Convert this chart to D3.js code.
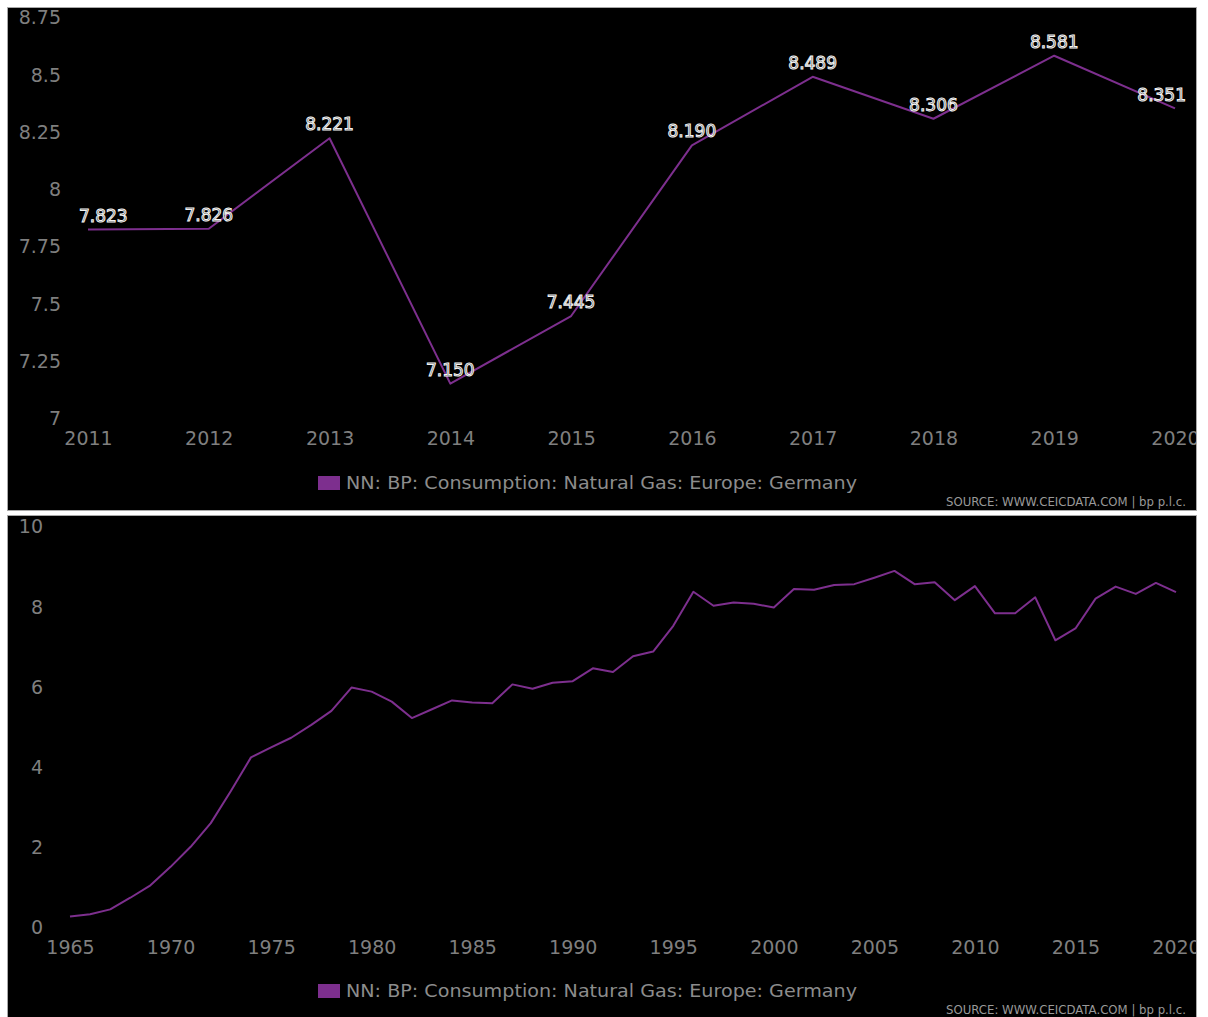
<!DOCTYPE html>
<html>
<head>
<meta charset="utf-8">
<script src="https://cdn.jsdelivr.net/npm/d3@7"></script>
<style>
  html, body { margin: 0; padding: 0; background: #fff; }
  svg { display: block; }
  text { font-family: "DejaVu Sans", Verdana, sans-serif; }
</style>
</head>
<body>
<script>
// Germany natural gas consumption (BP), recent decade
const recentYears = [2011, 2012, 2013, 2014, 2015, 2016, 2017, 2018, 2019, 2020];
const recentValues = [7.823, 7.826, 8.221, 7.150, 7.445, 8.190, 8.489, 8.306, 8.581, 8.351];
const recentTicks = [7, 7.25, 7.5, 7.75, 8, 8.25, 8.5, 8.75];

// Full history 1965-2020
const allYears = d3.range(1965, 2021);
const allValues = [
  0.26, 0.32, 0.44, 0.73, 1.04, 1.50, 2.00, 2.59, 3.39, 4.23,
  4.48, 4.72, 5.04, 5.39, 5.97, 5.87, 5.62, 5.21, 5.43, 5.65,
  5.60, 5.58, 6.05, 5.94, 6.09, 6.13, 6.45, 6.36, 6.75, 6.87,
  7.51, 8.36, 8.01, 8.09, 8.06, 7.97, 8.43, 8.41, 8.53, 8.55,
  8.71, 8.88, 8.55, 8.60, 8.15, 8.50,
  7.823, 7.826, 8.221, 7.150, 7.445, 8.190, 8.489, 8.306, 8.581, 8.351
];
const allTicks = [0, 2, 4, 6, 8, 10];
const allXTicks = d3.range(1965, 2021, 5);

const seriesName = "NN: BP: Consumption: Natural Gas: Europe: Germany";
const sourceText = "SOURCE: WWW.CEICDATA.COM | bp p.l.c.";

const lineColor = "#7d2f8e";
const axisTextColor = "#7f7f7f";

const W = 1208, H = 1017;
const svg = d3.select("body").append("svg").attr("width", W).attr("height", H);

function drawPanel(opt) {
  const p = opt.panel;
  const clipId = "clip-" + opt.id;
  svg.append("clipPath").attr("id", clipId)
    .append("rect").attr("x", p.x).attr("y", p.y).attr("width", p.w).attr("height", p.h);

  const g = svg.append("g").attr("clip-path", `url(#${clipId})`);
  g.append("rect").attr("x", p.x).attr("y", p.y).attr("width", p.w).attr("height", p.h)
    .attr("fill", "#000");

  const x = d3.scaleLinear().domain(opt.xDomain).range(opt.xRange);
  const y = d3.scaleLinear().domain(opt.yDomain).range(opt.yRange);

  // y axis labels
  const yAxis = g.append("g")
    .attr("transform", `translate(${opt.xRange[0] - 27},0)`)
    .call(d3.axisLeft(y).tickValues(opt.yTicks).tickSize(0).tickPadding(0)
      .tickFormat(d3.format("~g")));
  yAxis.select(".domain").remove();
  yAxis.selectAll("text").attr("fill", axisTextColor).attr("font-size", 19)
    .attr("font-family", "DejaVu Sans").attr("dy", "0.36em");

  // x axis labels
  const xAxis = g.append("g")
    .attr("transform", `translate(0,${opt.yRange[0]})`)
    .call(d3.axisBottom(x).tickValues(opt.xTicks).tickSize(0).tickFormat(d3.format("d")));
  xAxis.select(".domain").remove();
  xAxis.selectAll("text").attr("fill", axisTextColor).attr("font-size", 19)
    .attr("font-family", "DejaVu Sans").attr("y", 20).attr("dy", "0.36em");

  // series line
  const line = d3.line().x((d, i) => x(opt.years[i])).y(d => y(d));
  g.append("path").datum(opt.values).attr("d", line)
    .attr("fill", "none").attr("stroke", lineColor).attr("stroke-width", 2)
    .attr("stroke-linejoin", "round");

  // value labels
  if (opt.labels) {
    const fmt = d3.format(".3f");
    const lbl = g.append("g");
    opt.values.forEach((v, i) => {
      const t = lbl.append("text")
        .attr("font-size", 17)
        .attr("text-anchor", "middle")
        .attr("fill", "#3a3a3a")
        .attr("stroke", "#f4f4f4")
        .attr("stroke-width", 1)
        .attr("y", y(v) - 14)
        .attr("dy", "0.36em")
        .text(fmt(v));
      const w = t.node().getComputedTextLength();
      let cx = x(opt.years[i]);
      cx = Math.max(opt.labelBounds[0] + w / 2, Math.min(opt.labelBounds[1] - w / 2, cx));
      t.attr("x", cx);
    });
  }

  // legend
  const legY = p.y + 475;
  g.append("rect").attr("x", 318).attr("y", legY - 7).attr("width", 22).attr("height", 14)
    .attr("fill", lineColor);
  g.append("text").attr("x", 346).attr("y", legY).attr("dy", "0.36em")
    .attr("font-size", 18).attr("fill", "#8c8c8c")
    .attr("textLength", 511).attr("lengthAdjust", "spacingAndGlyphs")
    .text(seriesName);

  // source credit
  g.append("text").attr("x", 946).attr("y", p.y + 494).attr("dy", "0.36em")
    .attr("font-size", 12).attr("fill", "#999")
    .attr("textLength", 240).attr("lengthAdjust", "spacingAndGlyphs")
    .text(sourceText);

  // frame
  svg.append("rect").attr("x", p.x - 0.5).attr("y", p.y - 0.5)
    .attr("width", p.w + 1).attr("height", p.h + 1)
    .attr("fill", "none").attr("stroke", "#a8a8a8").attr("stroke-width", 1);
}

drawPanel({
  id: "recent",
  panel: { x: 8, y: 8, w: 1188, h: 502 },
  years: recentYears,
  values: recentValues,
  xDomain: [2011, 2020], xRange: [88, 1175],
  yDomain: [7, 8.75], yRange: [418, 17],
  yTicks: recentTicks,
  xTicks: recentYears,
  labels: true,
  labelBounds: [79, 1186]
});

drawPanel({
  id: "history",
  panel: { x: 8, y: 516, w: 1188, h: 510 },
  years: allYears,
  values: allValues,
  xDomain: [1965, 2020], xRange: [70, 1176],
  yDomain: [0, 10], yRange: [927, 526],
  yTicks: allTicks,
  xTicks: allXTicks,
  labels: false
});
</script>
</body>
</html>
